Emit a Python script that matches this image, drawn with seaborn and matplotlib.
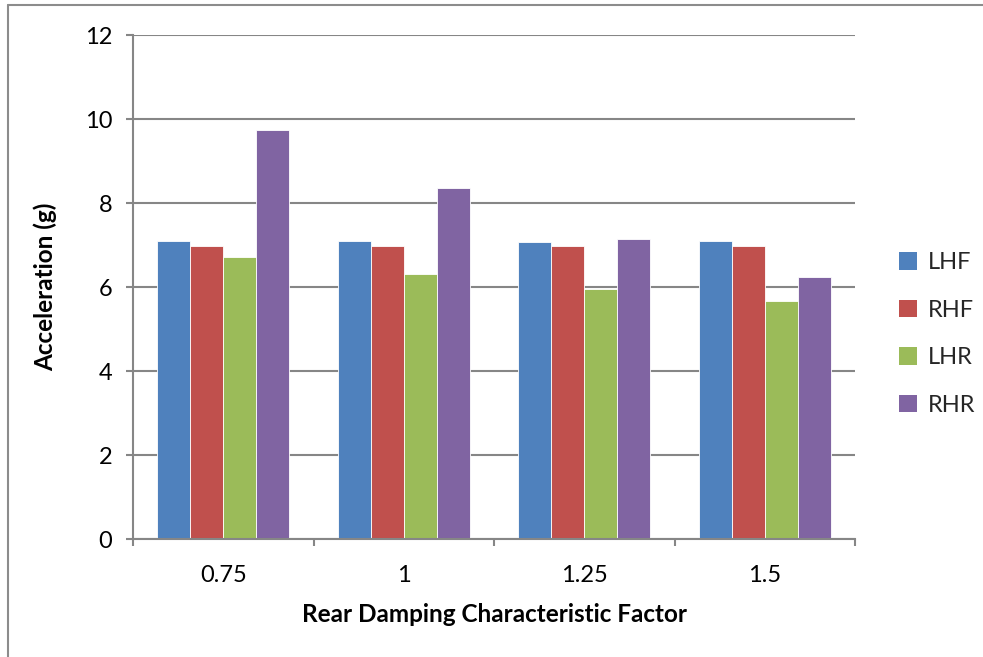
import matplotlib
matplotlib.use("Agg")
import matplotlib.pyplot as plt
from matplotlib.lines import Line2D
from matplotlib.patches import Patch
import seaborn as sns
import pandas as pd

# Peak acceleration per wheel location for each rear damping factor
factors = ["0.75", "1", "1.25", "1.5"]
lhf = [7.10, 7.10, 7.08, 7.10]
rhf = [6.97, 6.97, 6.98, 6.98]
lhr = [6.71, 6.31, 5.96, 5.66]
rhr = [9.73, 8.35, 7.14, 6.25]
series_names = ["LHF", "RHF", "LHR", "RHR"]
colors = ["#4F81BD", "#C0504D", "#9BBB59", "#8064A2"]

rows = []
for name, vals in zip(series_names, [lhf, rhf, lhr, rhr]):
    for f, v in zip(factors, vals):
        rows.append({"factor": f, "series": name, "accel": v})
df = pd.DataFrame(rows)

sns.set_theme(style="white")
plt.rcParams["font.family"] = ["Lato", "DejaVu Sans"]

W, H = 983, 657
fig = plt.figure(figsize=(W / 100, H / 100), dpi=100)
ax = fig.add_axes([133 / W, 1 - 539 / H, (855 - 133) / W, (539 - 35) / H])

sns.barplot(data=df, x="factor", y="accel", hue="series", order=factors,
            hue_order=series_names, palette=colors, width=0.73,
            saturation=1, ax=ax, legend=False, edgecolor="white", linewidth=0.6)

grid_c = "#868686"
ax.set_ylim(0, 12)
ax.set_xlim(-0.5, len(factors) - 0.5)
ax.set_yticks(range(0, 13, 2))
ax.yaxis.grid(True, color=grid_c, linewidth=1.5)
ax.set_axisbelow(True)
for s in ["top", "right"]:
    ax.spines[s].set_visible(False)
for s in ["left", "bottom"]:
    ax.spines[s].set_color(grid_c)
    ax.spines[s].set_linewidth(1.5)

ax.tick_params(axis="y", which="major", direction="out", length=5, width=1.5,
               color=grid_c, left=True, pad=10, labelsize=17, labelcolor="black")
ax.tick_params(axis="x", which="major", length=0, pad=19, labelsize=17,
               labelcolor="black")
ax.set_xticks([i - 0.5 for i in range(len(factors) + 1)], minor=True)
ax.tick_params(axis="x", which="minor", direction="out", length=5, width=1.5,
               color=grid_c, bottom=True)

ax.set_xlabel("Rear Damping Characteristic Factor", fontsize=17.5,
              fontweight="bold", labelpad=12, color="black")
ax.set_ylabel("Acceleration (g)", fontsize=17.5, fontweight="bold",
              labelpad=20, color="black")

handles = [Patch(facecolor=c, edgecolor="none", label=n)
           for c, n in zip(colors, series_names)]
fig.legend(handles=handles, loc="center left",
           bbox_to_anchor=(878 / W, 1 - 334 / H), frameon=False, fontsize=17,
           handlelength=0.75, handleheight=0.75, handletextpad=0.45,
           labelspacing=1.12)

# outer chart frame
frame_c = "#8C8C8C"
fig.add_artist(Line2D([8 / W, 1.0], [1 - 5 / H] * 2, color=frame_c,
                      linewidth=1.5, transform=fig.transFigure))
fig.add_artist(Line2D([8 / W] * 2, [0.0, 1 - 5 / H], color=frame_c,
                      linewidth=1.5, transform=fig.transFigure))

fig.savefig("out.png", dpi=100)
